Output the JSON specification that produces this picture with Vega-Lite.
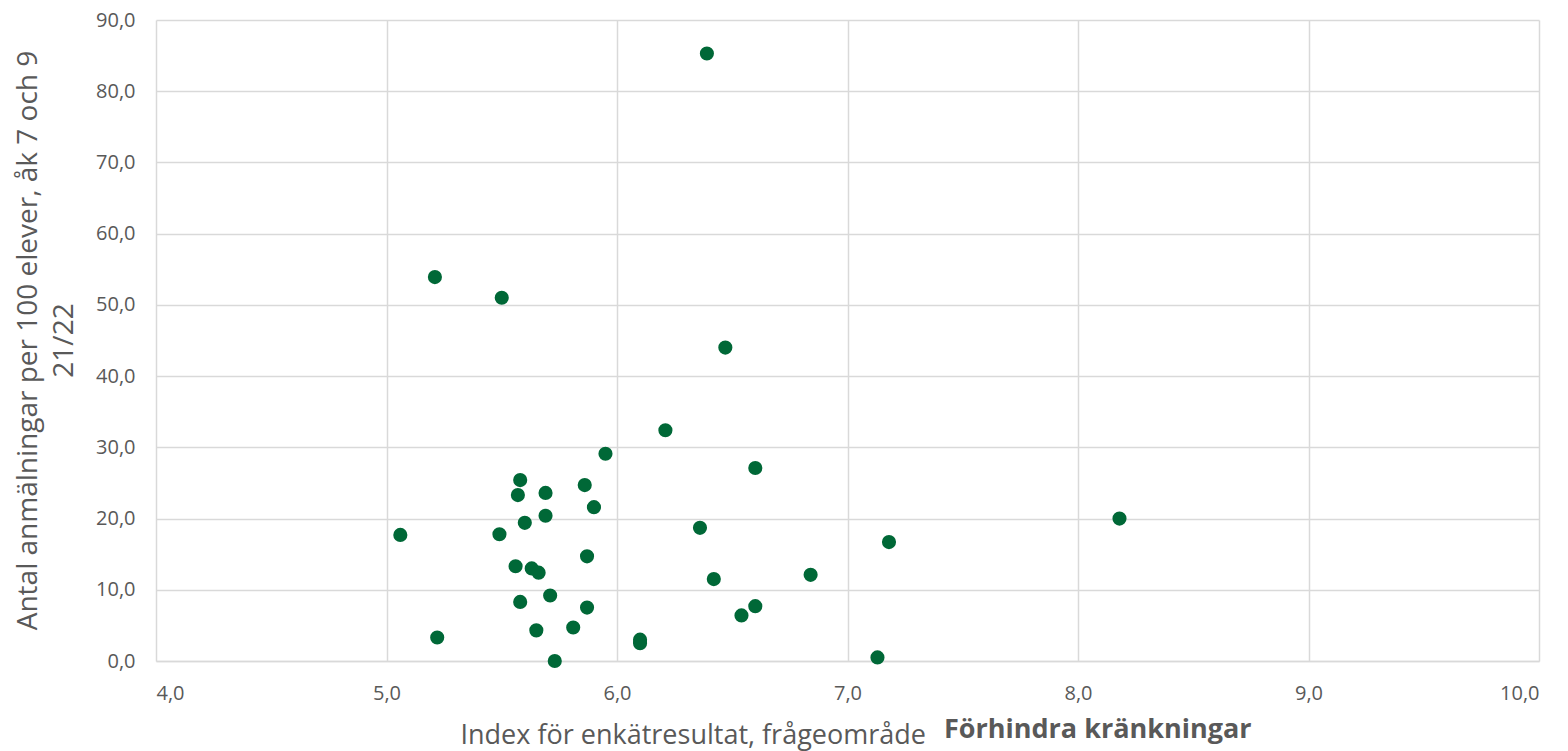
{
  "$schema": "https://vega.github.io/schema/vega-lite/v6.json",
  "autosize": "none",
  "width": 1383,
  "height": 641,
  "padding": {"left": 156, "top": 20, "right": 29, "bottom": 90},
  "background": "white",
  "title": {
    "text": "Förhindra kränkningar",
    "orient": "bottom",
    "anchor": "start",
    "frame": "group",
    "dx": 788,
    "offset": -31,
    "font": "Open Sans",
    "fontSize": 27,
    "fontWeight": "bold",
    "color": "#595959"
  },
  "data": {
    "values": [
      {"index": 6.39, "anm": 85.3},
      {"index": 5.21, "anm": 53.9},
      {"index": 5.50, "anm": 51.0},
      {"index": 6.47, "anm": 44.0},
      {"index": 6.21, "anm": 32.4},
      {"index": 5.95, "anm": 29.1},
      {"index": 6.60, "anm": 27.1},
      {"index": 5.58, "anm": 25.4},
      {"index": 5.86, "anm": 24.7},
      {"index": 5.69, "anm": 23.6},
      {"index": 5.57, "anm": 23.3},
      {"index": 5.90, "anm": 21.6},
      {"index": 5.69, "anm": 20.4},
      {"index": 8.18, "anm": 20.0},
      {"index": 5.60, "anm": 19.4},
      {"index": 6.36, "anm": 18.7},
      {"index": 5.06, "anm": 17.7},
      {"index": 5.49, "anm": 17.8},
      {"index": 7.18, "anm": 16.7},
      {"index": 5.87, "anm": 14.7},
      {"index": 5.56, "anm": 13.3},
      {"index": 5.63, "anm": 13.0},
      {"index": 5.66, "anm": 12.4},
      {"index": 6.84, "anm": 12.1},
      {"index": 6.42, "anm": 11.5},
      {"index": 5.71, "anm": 9.2},
      {"index": 5.58, "anm": 8.3},
      {"index": 5.87, "anm": 7.5},
      {"index": 6.60, "anm": 7.7},
      {"index": 6.54, "anm": 6.4},
      {"index": 5.81, "anm": 4.7},
      {"index": 5.65, "anm": 4.3},
      {"index": 5.22, "anm": 3.3},
      {"index": 6.10, "anm": 3.0},
      {"index": 6.10, "anm": 2.5},
      {"index": 7.13, "anm": 0.5},
      {"index": 5.73, "anm": 0.0}
    ]
  },
  "mark": {"type": "circle", "size": 200, "color": "#006837", "opacity": 1},
  "encoding": {
    "x": {
      "field": "index",
      "type": "quantitative",
      "scale": {"domain": [4, 10], "nice": false, "zero": false},
      "axis": {
        "values": [4, 5, 6, 7, 8, 9, 10],
        "labelExpr": "replace(format(datum.value, '.1f'), '.', ',')",
        "title": "Index för enkätresultat, frågeområde",
        "titleAnchor": "start",
        "titleX": 304,
        "titleAlign": "left",
        "titleFontSize": 27,
        "titlePadding": 19
      }
    },
    "y": {
      "field": "anm",
      "type": "quantitative",
      "scale": {"domain": [0, 90], "nice": false},
      "axis": {
        "values": [0, 10, 20, 30, 40, 50, 60, 70, 80, 90],
        "labelExpr": "replace(format(datum.value, '.1f'), '.', ',')",
        "title": ["Antal anmälningar per 100 elever, åk 7 och 9", "21/22"],
        "titleFontSize": 28,
        "titleLineHeight": 36,
        "titleBaseline": "alphabetic",
        "titleAlign": "center",
        "titleAngle": 270,
        "titleX": -120,
        "titleY": 320
      }
    }
  },
  "config": {
    "view": {"stroke": null},
    "axis": {
      "labelFont": "Open Sans",
      "labelFontSize": 20,
      "labelColor": "#595959",
      "titleFont": "Open Sans",
      "titleFontWeight": "normal",
      "titleColor": "#595959",
      "gridColor": "#d9d9d9",
      "gridWidth": 1.5,
      "domainColor": "#d9d9d9",
      "domainWidth": 1.5,
      "ticks": false,
      "labelPadding": 22
    },
    "axisY": {"labelPadding": 21, "domain": false},
    "axisX": {"domain": true}
  }
}
